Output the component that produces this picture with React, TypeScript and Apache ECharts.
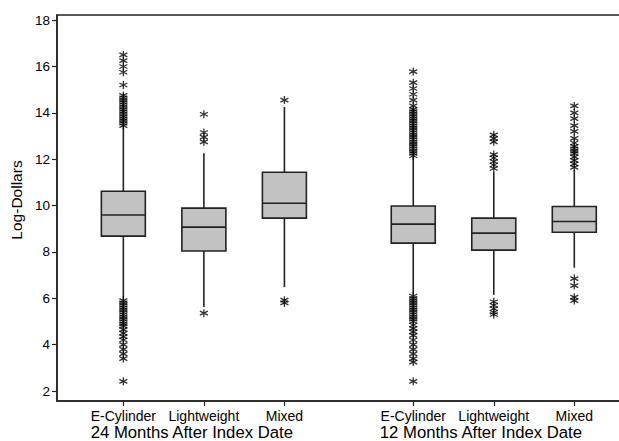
import React, { useEffect, useRef } from "react";
import * as echarts from "echarts";

// ---- data ----
const categories = ["E-Cylinder", "Lightweight", "Mixed", "E-Cylinder", "Lightweight", "Mixed"];
const groupLabels = ["24 Months After Index Date", "12 Months After Index Date"];
const yTicks = [2, 4, 6, 8, 10, 12, 14, 16, 18];

const whiskerLow = [5.98, 5.62, 6.48, 6.18, 6.15, 7.32];
const q1 = [8.68, 8.04, 9.46, 8.38, 8.08, 8.85];
const median = [9.59, 9.07, 10.1, 9.2, 8.81, 9.31];
const q3 = [10.62, 9.89, 11.44, 9.98, 9.46, 9.96];
const whiskerHigh = [13.38, 12.26, 14.25, 12.09, 11.44, 11.53];

const outEcyl24 = [13.45, 13.55, 13.65, 13.75, 13.85, 13.95, 14.05, 14.15, 14.25, 14.35, 14.45, 14.55, 14.65, 14.75, 15.2, 15.75, 16.0, 16.25, 16.5,
  5.9, 5.8, 5.7, 5.6, 5.5, 5.4, 5.3, 5.2, 5.1, 5.0, 4.9, 4.8, 4.65, 4.5, 4.35, 4.2, 4.0, 3.8, 3.6, 3.4, 2.42];
const outLight24 = [12.75, 12.95, 13.15, 13.94, 5.36];
const outMixed24 = [14.55, 5.92, 5.8];
const outEcyl12 = [12.15, 12.25, 12.35, 12.45, 12.55, 12.65, 12.75, 12.85, 12.95, 13.05, 13.15, 13.25, 13.35, 13.45, 13.55, 13.65, 13.75, 13.85, 13.95, 14.05, 14.15, 14.3, 14.55, 14.8, 15.05, 15.3, 15.78,
  6.1, 6.0, 5.9, 5.8, 5.7, 5.6, 5.5, 5.4, 5.3, 5.2, 5.1, 5.0, 4.85, 4.7, 4.55, 4.4, 4.2, 4.0, 3.8, 3.6, 3.4, 3.25, 2.42];
const outLight12 = [11.6, 11.75, 11.9, 12.05, 12.2, 12.75, 12.9, 13.05, 5.85, 5.7, 5.55, 5.4, 5.3];
const outMixed12 = [11.65, 11.8, 11.95, 12.1, 12.25, 12.35, 12.45, 12.55, 12.7, 12.9, 13.2, 13.45, 13.75, 14.0, 14.3, 6.85, 6.55, 6.05, 5.9];
const outliers = [outEcyl24, outLight24, outMixed24, outEcyl12, outLight12, outMixed12];

// ---- layout (positions on the x value axis) ----
const xPos = [1, 2, 3, 4.6, 5.6, 6.6];
const groupPos = [1.85, 5.44];

const FONT = "'Liberation Sans', Arial, Helvetica, sans-serif";
const ASTERISK = "path://M5 0L5 10M0.7 2.5L9.3 7.5M0.7 7.5L9.3 2.5";

const nearest = (arr: number[], v: number) => {
  let best = 0;
  arr.forEach((p, i) => { if (Math.abs(p - v) < Math.abs(arr[best] - v)) best = i; });
  return best;
};

export default function App() {
  const ref = useRef<HTMLDivElement>(null);
  useEffect(() => {
    if (!ref.current) return;
    const chart = echarts.init(ref.current, null, { renderer: "svg" });

    const boxData = xPos.map((x, i) => [x, whiskerLow[i], q1[i], median[i], q3[i], whiskerHigh[i]]);
    const outData: number[][] = [];
    outliers.forEach((arr, i) => arr.forEach((v) => outData.push([xPos[i], v])));

    chart.setOption({
      animation: false,
      textStyle: { fontFamily: FONT },
      grid: {
        left: 57, right: -2, top: 15, bottom: 40,
        show: true, borderColor: "#222", borderWidth: 1.5,
        outerBoundsMode: "none",
      },
      xAxis: [
        {
          type: "value",
          min: 0.176,
          max: 7.18,
          splitLine: { show: false },
          axisLine: { show: true, lineStyle: { color: "#222", width: 1.5 } },
          axisTick: { show: true, length: 5, customValues: xPos, lineStyle: { color: "#222", width: 1.2 } },
          axisLabel: {
            customValues: xPos,
            showMinLabel: true,
            showMaxLabel: true,
            hideOverlap: false,
            margin: 8,
            fontSize: 14,
            color: "#000",
            fontFamily: FONT,
            formatter: (v: number) => categories[nearest(xPos, v)],
          },
        },
        {
          type: "value",
          position: "bottom",
          min: 0.176,
          max: 7.18,
          splitLine: { show: false },
          axisLine: { show: false },
          axisTick: { show: false },
          axisLabel: {
            customValues: groupPos,
            showMinLabel: true,
            showMaxLabel: true,
            hideOverlap: false,
            margin: 23,
            fontSize: 16.7,
            color: "#000",
            fontFamily: FONT,
            formatter: (v: number) => groupLabels[nearest(groupPos, v)],
          },
        },
      ],
      yAxis: {
        type: "value",
        min: 1.57,
        max: 18.22,
        name: "Log-Dollars",
        nameLocation: "middle",
        nameGap: 30,
        nameTextStyle: { fontSize: 15.5, color: "#000", fontFamily: FONT, padding: [0, 0, 0, 16] },
        splitLine: { show: false },
        axisLine: { show: true, lineStyle: { color: "#222", width: 1.5 } },
        axisTick: { show: true, length: 5, customValues: yTicks, lineStyle: { color: "#222", width: 1.2 } },
        axisLabel: { customValues: yTicks, showMinLabel: true, showMaxLabel: true, margin: 7, fontSize: 13.5, color: "#000", fontFamily: FONT },
      },
      series: [
        {
          type: "custom",
          data: boxData,
          encode: { x: 0, y: [1, 2, 3, 4, 5] },
          z: 2,
          renderItem: (params: any, api: any) => {
            const x = api.value(0);
            const lo = api.coord([x, api.value(1)]);
            const b1 = api.coord([x, api.value(2)]);
            const md = api.coord([x, api.value(3)]);
            const b3 = api.coord([x, api.value(4)]);
            const hi = api.coord([x, api.value(5)]);
            const hw = 22;
            const ls = { stroke: "#222", lineWidth: 1.6 };
            return {
              type: "group",
              children: [
                { type: "line", shape: { x1: hi[0], y1: hi[1], x2: b3[0], y2: b3[1] }, style: ls },
                { type: "line", shape: { x1: lo[0], y1: lo[1], x2: b1[0], y2: b1[1] }, style: ls },
                {
                  type: "rect",
                  shape: { x: b3[0] - hw, y: b3[1], width: hw * 2, height: b1[1] - b3[1] },
                  style: { fill: "#c2c2c2", stroke: "#222", lineWidth: 1.6 },
                },
                { type: "line", shape: { x1: md[0] - hw, y1: md[1], x2: md[0] + hw, y2: md[1] }, style: ls },
              ],
            };
          },
        },
        {
          type: "scatter",
          data: outData,
          symbol: ASTERISK,
          symbolSize: 8,
          z: 3,
          itemStyle: { color: "#000", borderColor: "#000", borderWidth: 1.3 },
        },
      ],
    });
    return () => chart.dispose();
  }, []);

  return <div ref={ref} style={{ position: "fixed", left: 0, top: 0, width: 619, height: 441, background: "#fff" }} />;
}
